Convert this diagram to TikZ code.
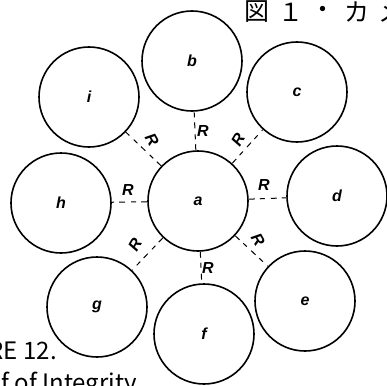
\documentclass[tikz,border=0pt]{standalone}
\usepackage{fontspec}
\setmainfont{Liberation Sans}
\newfontfamily\jpfont{Noto Sans CJK JP}
\begin{document}
\begin{tikzpicture}[x=1pt,y=-1pt,
  ring/.style={circle,draw,line width=1.6pt,minimum size=100pt,inner sep=0pt,font=\fontsize{16}{16}\selectfont\bfseries\itshape},
  conn/.style={line width=1pt,dash pattern=on 6pt off 5pt on 5pt off 6pt},
  rlab/.style={font=\fontsize{16}{16}\selectfont\bfseries\itshape,inner sep=0pt},
  jp/.style={font=\jpfont\fontsize{25}{25}\selectfont,inner sep=0pt},
  captext/.style={font=\jpfont\fontsize{24}{28}\selectfont,inner sep=0pt}]
\useasboundingbox (0,0) rectangle (387,385);
\clip (0,0) rectangle (387,385);
\node[ring] (a) at (198,201) {a};
\node[ring] (b) at (192,61) {b};
\node[ring] (c) at (297,92) {c};
\node[ring] (d) at (337,196) {d};
\node[ring] (e) at (305,301) {e};
\node[ring] (f) at (204,334) {f};
\node[ring] (g) at (97,307) {g};
\node[ring] (h) at (61,203) {h};
\node[ring] (i) at (89,97) {i};
\draw[conn] (a) -- (b) node[rlab] (rb) at (203,131) {R};
\draw[conn] (a) -- (c) node[rlab,rotate=60] (rc) at (238,140) {R};
\draw[conn] (a) -- (d) node[rlab] (rd) at (264,185) {R};
\draw[conn] (a) -- (e) node[rlab,rotate=-60] (re) at (258,240) {R};
\draw[conn] (a) -- (f) node[rlab] (rf) at (208,268) {R};
\draw[conn] (a) -- (g) node[rlab,rotate=60] (rg) at (135,245) {R};
\draw[conn] (a) -- (h) node[rlab] (rh) at (128,190) {R};
\draw[conn] (a) -- (i) node[rlab,rotate=-60] (ri) at (152,140) {R};
\node[jp] (j1) at (257,12) {図};
\node[jp] (j2) at (291,12) {１};
\node[jp] (j3) at (323,12) {・};
\node[jp] (j4) at (357,12) {カ};
\node[jp] (j5) at (391,12) {メ};
\node[captext,anchor=base east] (t1) at (57,359) {FIGURE 12.};
\node[captext,anchor=base east] (t2) at (137,391) {Shelf of Integrity};
\end{tikzpicture}
\end{document}
